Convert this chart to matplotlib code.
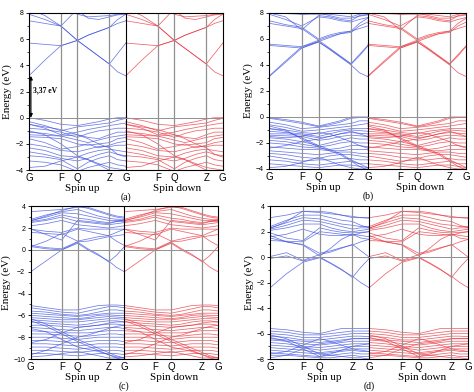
import matplotlib
matplotlib.use("Agg")
import matplotlib.pyplot as plt
from matplotlib.ticker import MultipleLocator

# k-path along one spin channel: G - F - Q - Z - G
kpts = [0.0, 0.165, 0.33, 0.5, 0.61, 0.72, 0.83, 0.915, 1.0]
sym_pos = [0.0, 0.33, 0.5, 0.83, 1.0, 1.33, 1.5, 1.83, 2.0]
sym_lab = ["G", "F", "Q", "Z", "G", "F", "Q", "Z", "G"]

# ---------------- (a) ----------------
a_cond = [
    [3.2, 4.4, 5.5, 5.9, 5.3, 4.7, 4.1, 3.5, 3.2],
    [5.7, 5.6, 5.5, 5.9, 5.3, 4.7, 4.1, 4.9, 5.7],
    [7.9, 7.5, 7.0, 5.9, 6.3, 6.6, 6.9, 7.2, 7.4],
    [7.4, 7.2, 7.0, 5.9, 6.3, 6.6, 6.9, 7.5, 7.9],
    [8.3, 7.8, 7.0, 8.3, 8.6, 8.5, 8.3, 8.2, 8.2],
    [7.95, 8.1, 8.4, 8.2, 7.6, 7.5, 7.7, 7.85, 7.9],
    [8.5, 8.5, 8.6, 7.9, 7.7, 7.75, 7.8, 7.9, 7.95],
]
a_val = [
    [0.0, -0.2, -0.5, -0.6, -0.45, -0.3, -0.1, 0.0, 0.0],
    [-0.3, -0.6, -1.0, -0.7, -0.6, -0.5, -0.4, -0.2, -0.05],
    [-0.5, -0.8, -1.3, -1.1, -0.9, -0.75, -0.6, -0.5, -0.4],
    [-0.8, -0.9, -1.1, -1.5, -1.2, -1.0, -0.9, -0.8, -0.8],
    [-1.1, -1.2, -1.4, -1.3, -1.5, -1.6, -1.3, -1.1, -1.1],
    [-1.3, -1.35, -1.4, -1.7, -1.9, -1.7, -1.5, -1.4, -1.3],
    [-1.45, -1.5, -1.6, -2.0, -2.1, -2.0, -1.9, -1.6, -1.5],
    [-1.6, -1.9, -2.4, -2.2, -2.0, -2.3, -2.1, -1.9, -1.8],
    [-2.0, -2.2, -2.5, -2.6, -2.4, -2.2, -2.2, -2.1, -2.1],
    [-2.3, -2.5, -2.9, -3.0, -2.7, -2.5, -2.4, -2.5, -2.6],
    [-2.6, -2.8, -3.1, -3.3, -3.1, -2.8, -2.6, -2.8, -2.9],
    [-2.9, -3.0, -3.2, -3.9, -3.4, -3.1, -2.9, -3.2, -3.3],
    [-3.3, -3.4, -3.6, -4.1, -3.8, -3.6, -3.4, -3.6, -3.7],
    [-3.8, -3.7, -3.3, -3.0, -3.2, -3.5, -3.8, -3.9, -4.0],
    [-1.0, -1.3, -2.0, -2.9, -3.2, -3.6, -4.0, -4.2, -4.3],
    [-0.5, -0.7, -0.9, -1.3, -1.6, -2.0, -2.3, -2.8, -3.0],
]

# ---------------- (b) ----------------
b_cond = [
    [3.1, 4.2, 5.3, 5.8, 5.2, 4.6, 4.0, 3.4, 3.1],
    [3.15, 4.3, 5.4, 5.9, 5.3, 4.7, 4.1, 4.8, 5.5],
    [5.5, 5.4, 5.3, 5.75, 5.25, 4.65, 4.05, 4.7, 5.45],
    [5.6, 5.5, 5.4, 5.8, 6.1, 6.4, 6.6, 6.8, 7.0],
    [7.2, 7.0, 6.8, 5.9, 6.2, 6.4, 6.5, 7.0, 7.3],
    [7.4, 7.1, 6.9, 6.0, 6.3, 6.5, 6.6, 7.2, 7.6],
    [7.9, 7.5, 7.0, 7.7, 7.6, 7.4, 7.3, 7.5, 7.65],
    [8.0, 7.7, 6.7, 7.8, 7.7, 7.5, 7.4, 7.8, 7.9],
    [7.95, 7.95, 7.9, 8.0, 7.8, 7.6, 7.6, 7.75, 7.85],
    [8.3, 8.1, 7.9, 7.9, 7.9, 7.8, 7.7, 7.9, 8.0],
]
b_val = [
    [-0.05, -0.2, -0.4, -0.7, -0.5, -0.3, 0.0, 0.0, 0.0],
    [-0.1, -0.3, -0.5, -0.75, -0.6, -0.4, -0.1, -0.05, -0.05],
    [-0.4, -0.6, -0.9, -0.8, -0.7, -0.6, -0.5, -0.3, -0.3],
    [-0.6, -0.8, -1.1, -1.0, -0.9, -0.8, -0.7, -0.6, -0.5],
    [-0.9, -1.0, -1.2, -1.3, -1.1, -1.0, -0.9, -0.9, -0.9],
    [-1.1, -1.2, -1.3, -1.5, -1.3, -1.1, -1.0, -1.05, -1.1],
    [-1.3, -1.3, -1.4, -1.6, -1.5, -1.3, -1.2, -1.25, -1.3],
    [-1.4, -1.45, -1.5, -1.8, -1.7, -1.5, -1.4, -1.45, -1.5],
    [-1.6, -1.7, -1.9, -2.2, -2.0, -1.8, -1.6, -1.7, -1.7],
    [-1.8, -1.9, -2.1, -2.3, -2.2, -2.0, -1.9, -2.0, -2.0],
    [-2.0, -2.1, -2.3, -2.4, -2.5, -2.4, -2.2, -2.2, -2.3],
    [-2.3, -2.4, -2.5, -2.5, -2.6, -2.6, -2.5, -2.5, -2.5],
    [-2.6, -2.7, -2.8, -2.9, -2.8, -2.7, -2.7, -2.8, -2.8],
    [-2.8, -2.9, -3.1, -3.2, -3.0, -2.9, -2.9, -3.0, -3.1],
    [-3.0, -3.2, -3.4, -3.3, -3.3, -3.2, -3.2, -3.3, -3.3],
    [-3.3, -3.4, -3.6, -3.7, -3.6, -3.5, -3.4, -3.6, -3.6],
    [-3.6, -3.7, -3.8, -3.9, -3.8, -3.7, -3.7, -3.8, -3.9],
    [-3.9, -3.8, -3.5, -3.1, -3.4, -3.7, -3.9, -4.0, -4.0],
    [-0.7, -1.0, -1.7, -2.3, -2.6, -2.9, -3.4, -3.8, -4.1],
    [-0.9, -1.1, -1.6, -2.2, -2.5, -2.8, -3.3, -3.6, -3.9],
    [-1.5, -1.6, -1.5, -1.2, -1.3, -1.6, -1.9, -2.2, -2.4],
    [-2.4, -2.2, -1.9, -1.7, -1.5, -1.3, -1.1, -1.3, -1.5],
]

# ---------------- (c) ----------------
c_cond = [
    [-2.0, -1.0, 0.0, 0.6, 0.0, -0.5, -1.0, -1.6, -2.0],
    [0.3, 0.1, 0.0, 0.7, 0.1, -0.4, -1.1, -0.5, 0.3],
    [0.4, 0.2, 0.1, 0.75, 0.8, 1.0, 1.2, 1.3, 1.4],
    [0.3, 0.8, 1.5, 0.8, 1.0, 1.2, 1.3, 0.8, 0.4],
    [1.6, 1.5, 1.4, 1.9, 1.7, 1.5, 1.3, 1.6, 1.9],
    [1.9, 1.7, 1.6, 2.0, 1.9, 1.9, 1.9, 1.9, 1.9],
    [2.2, 2.4, 2.7, 2.3, 2.2, 2.1, 2.0, 2.1, 2.2],
    [2.5, 2.7, 3.0, 2.6, 2.5, 2.4, 2.3, 2.4, 2.5],
    [2.6, 2.8, 3.2, 2.9, 2.8, 2.6, 2.5, 2.6, 2.6],
    [2.7, 3.0, 3.4, 3.3, 3.1, 2.9, 2.7, 2.7, 2.7],
    [2.8, 3.2, 3.5, 3.7, 3.4, 3.1, 2.9, 2.8, 2.8],
    [2.65, 3.1, 3.6, 4.0, 3.8, 3.5, 3.2, 3.0, 2.9],
    [1.9, 1.4, 0.9, 2.7, 2.6, 2.5, 2.4, 2.6, 2.75],
    [3.5, 3.6, 3.7, 3.9, 3.9, 3.6, 3.3, 3.1, 3.0],
]
c_val = [
    [-5.1, -5.3, -5.5, -5.5, -5.3, -5.1, -5.05, -5.05, -5.1],
    [-5.3, -5.5, -5.7, -5.8, -5.6, -5.4, -5.2, -5.2, -5.3],
    [-5.6, -5.7, -5.9, -6.0, -5.9, -5.7, -5.5, -5.5, -5.6],
    [-5.8, -5.9, -6.0, -6.1, -6.0, -5.9, -5.8, -5.8, -5.8],
    [-6.0, -6.1, -6.2, -6.3, -6.2, -6.0, -5.95, -6.0, -6.0],
    [-6.2, -6.3, -6.4, -6.4, -6.3, -6.2, -6.1, -6.15, -6.2],
    [-6.4, -6.5, -6.6, -6.6, -6.5, -6.4, -6.3, -6.3, -6.35],
    [-6.6, -6.7, -6.8, -6.9, -6.8, -6.6, -6.5, -6.5, -6.6],
    [-6.9, -6.9, -7.0, -7.1, -7.0, -6.9, -6.8, -6.8, -6.9],
    [-7.1, -7.2, -7.3, -7.4, -7.3, -7.2, -7.1, -7.1, -7.2],
    [-7.4, -7.5, -7.6, -7.6, -7.6, -7.5, -7.4, -7.4, -7.4],
    [-7.7, -7.7, -7.8, -7.9, -7.9, -7.8, -7.7, -7.7, -7.8],
    [-8.0, -8.0, -8.1, -8.2, -8.1, -8.0, -8.0, -8.0, -8.0],
    [-8.3, -8.3, -8.4, -8.5, -8.4, -8.3, -8.3, -8.3, -8.4],
    [-8.6, -8.6, -8.7, -8.8, -8.7, -8.6, -8.6, -8.6, -8.7],
    [-8.9, -8.9, -9.0, -9.1, -9.0, -8.9, -8.9, -8.9, -9.0],
    [-9.2, -9.2, -9.3, -9.4, -9.3, -9.2, -9.2, -9.2, -9.3],
    [-9.5, -9.5, -9.6, -9.7, -9.6, -9.5, -9.5, -9.5, -9.6],
    [-9.8, -9.7, -9.5, -9.3, -9.5, -9.7, -9.9, -9.9, -9.9],
    [-6.3, -6.8, -7.5, -8.2, -8.6, -9.0, -9.4, -9.7, -9.9],
    [-6.5, -7.0, -7.7, -8.4, -8.8, -9.2, -9.6, -9.9, -10.1],
    [-9.6, -9.2, -8.6, -8.0, -7.8, -7.5, -7.2, -7.0, -6.9],
    [-8.5, -8.2, -7.6, -7.1, -7.0, -6.9, -6.7, -6.6, -6.6],
    [-7.2, -7.5, -8.2, -8.9, -9.1, -9.3, -9.6, -9.8, -9.9],
]

# ---------------- (d) ----------------
d_cond = [
    [-2.4, -1.3, -0.4, -0.05, -0.5, -1.0, -1.5, -2.0, -2.4],
    [-0.1, 0.1, -0.3, 0.0, -0.45, -0.95, -1.6, -0.8, -0.1],
    [0.05, 0.35, -0.25, 0.2, 0.4, 0.7, 1.0, 0.5, 0.0],
    [1.7, 1.2, 1.0, 0.3, 0.5, 0.75, 0.95, 1.2, 1.4],
    [1.5, 1.2, 0.95, 0.1, 0.7, 1.4, 1.8, 1.7, 1.6],
    [1.9, 1.5, 1.3, 2.3, 2.1, 1.95, 1.9, 1.95, 2.0],
    [2.1, 2.3, 2.6, 2.6, 2.3, 2.1, 2.0, 2.1, 2.2],
    [2.2, 2.5, 2.9, 2.8, 2.6, 2.4, 2.2, 2.3, 2.3],
    [2.3, 2.7, 3.1, 3.0, 2.8, 2.6, 2.5, 2.4, 2.4],
    [2.4, 2.9, 3.3, 3.3, 3.1, 2.9, 2.8, 2.5, 2.3],
    [3.1, 3.3, 3.6, 3.5, 3.4, 3.3, 3.1, 3.1, 3.1],
    [2.25, 2.8, 3.6, 3.6, 3.5, 3.3, 3.2, 3.1, 3.05],
    [1.6, 1.8, 2.2, 1.8, 1.7, 1.7, 1.8, 1.5, 1.4],
    [1.3, 1.25, 1.2, 2.0, 1.9, 1.8, 1.7, 1.9, 2.0],
]
d_val = [
    [-5.6, -5.7, -5.9, -6.0, -5.8, -5.6, -5.6, -5.6, -5.6],
    [-5.8, -5.9, -6.1, -6.1, -6.0, -5.9, -5.8, -5.8, -5.8],
    [-6.0, -6.1, -6.3, -6.3, -6.2, -6.1, -6.0, -6.0, -6.0],
    [-6.2, -6.3, -6.5, -6.5, -6.4, -6.3, -6.2, -6.2, -6.25],
    [-6.4, -6.5, -6.6, -6.7, -6.6, -6.5, -6.4, -6.4, -6.4],
    [-6.5, -6.6, -6.8, -6.9, -6.8, -6.7, -6.6, -6.6, -6.6],
    [-6.7, -6.8, -7.0, -7.1, -7.0, -6.9, -6.8, -6.8, -6.8],
    [-6.9, -7.0, -7.1, -7.3, -7.2, -7.1, -7.0, -7.0, -7.0],
    [-7.1, -7.2, -7.3, -7.5, -7.4, -7.3, -7.2, -7.2, -7.2],
    [-7.3, -7.4, -7.5, -7.6, -7.5, -7.4, -7.3, -7.4, -7.4],
    [-7.5, -7.6, -7.7, -7.8, -7.7, -7.6, -7.5, -7.6, -7.6],
    [-7.7, -7.7, -7.8, -7.9, -7.9, -7.8, -7.7, -7.8, -7.8],
    [-6.1, -6.4, -7.0, -7.6, -7.7, -7.8, -7.9, -7.9, -8.0],
    [-7.9, -7.7, -7.2, -6.8, -6.7, -6.6, -6.4, -6.4, -6.4],
    [-6.3, -6.6, -7.2, -7.8, -7.6, -7.3, -7.0, -6.9, -6.8],
    [-7.6, -7.4, -6.9, -6.4, -6.6, -6.9, -7.2, -7.3, -7.4],
]

panels = [
    ("(a)", a_cond + a_val, (-4, 8), [0.061, 0.566, 0.409, 0.401]),
    ("(b)", b_cond + b_val, (-4, 8), [0.568, 0.569, 0.416, 0.398]),
    ("(c)", c_cond + c_val, (-10, 4), [0.065, 0.084, 0.395, 0.390]),
    ("(d)", d_cond + d_val, (-8, 4), [0.570, 0.084, 0.418, 0.390]),
]

blue = "#3b4fe0"
red = "#e8323c"
serif = ["Liberation Serif", "DejaVu Serif"]
sans = ["Liberation Sans", "DejaVu Sans"]

fig = plt.figure(figsize=(4.74, 3.92), dpi=100)

for tag, bands, ylim, rect in panels:
    ax = fig.add_axes(rect)
    k_up = kpts
    k_dn = [1.0 + k for k in kpts]
    for band in bands:
        ax.plot(k_up, band, color=blue, lw=0.55, alpha=0.75)
        ax.plot(k_dn, band, color=red, lw=0.55, alpha=0.75)

    for xp in sym_pos[1:-1]:
        if xp == 1.0:
            ax.axvline(xp, color="black", lw=0.8)
        else:
            ax.axvline(xp, color="#909090", lw=0.9)
    ax.axhline(0, color="#909090", lw=0.7)

    ax.set_xlim(0, 2)
    ax.set_ylim(*ylim)
    ax.set_xticks(sym_pos)
    ax.set_xticklabels(sym_lab, family=sans, fontsize=7)
    ax.tick_params(axis="x", length=0, pad=2)
    ax.yaxis.set_major_locator(MultipleLocator(2))
    ax.yaxis.set_minor_locator(MultipleLocator(1))
    ax.tick_params(axis="y", which="major", length=2.5, width=0.6, labelsize=5, pad=1.5)
    ax.tick_params(axis="y", which="minor", length=1.5, width=0.5)
    for lbl in ax.get_yticklabels():
        lbl.set_family(sans)
    for sp in ax.spines.values():
        sp.set_linewidth(0.8)
    ax.set_ylabel("Energy (eV)", family=serif, fontsize=8, labelpad=2)

    trans = ax.get_xaxis_transform()
    ax.text(0.55, -0.12, "Spin up", transform=trans, ha="center", va="center",
            family=serif, fontsize=8)
    ax.text(1.53, -0.12, "Spin down", transform=trans, ha="center", va="center",
            family=serif, fontsize=8)
    ax.text(1.0, -0.175, tag, transform=trans, ha="center", va="center",
            family=serif, fontsize=7)

    if tag == "(a)":
        ax.annotate("", xy=(0.02, 3.2), xytext=(0.02, 0.0),
                    arrowprops=dict(arrowstyle="<|-|>", color="black", lw=0.9,
                                    mutation_scale=5, shrinkA=0, shrinkB=0))
        ax.text(0.04, 2.1, "3,37 eV", family=serif, fontsize=5.5,
                fontweight="bold", ha="left", va="center")

fig.savefig("out.png", dpi=100)
